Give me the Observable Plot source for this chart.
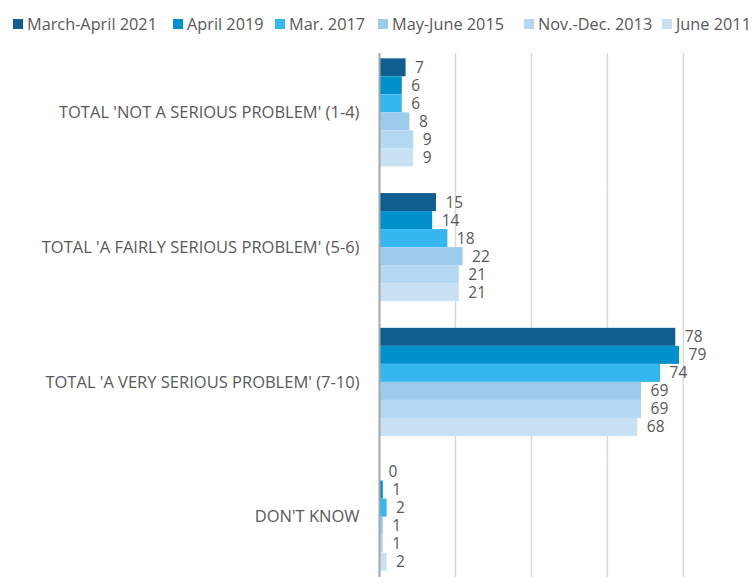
<!DOCTYPE html>
<html>
<head>
<meta charset="utf-8">
<script src="https://cdn.jsdelivr.net/npm/d3@7"></script>
<script src="https://cdn.jsdelivr.net/npm/@observablehq/plot@0.6"></script>
<style>
  html, body { margin: 0; padding: 0; background: #fff; overflow: hidden; }
  body { font-family: "Open Sans", "Noto Sans", sans-serif; color: #595959; }
  #legend { position: relative; height: 40px; white-space: nowrap; font-size: 16.3px; }
  .item { position: absolute; top: 12px; height: 24px; display: flex; align-items: center; }
  .sw { width: 10px; height: 10px; margin-right: 4px; flex: none; }
  svg { display: block; }
</style>
</head>
<body>
<div id="legend"></div>
<div id="chart"></div>
<script>
const categories = [
  "TOTAL 'NOT A SERIOUS PROBLEM' (1-4)",
  "TOTAL 'A FAIRLY SERIOUS PROBLEM' (5-6)",
  "TOTAL 'A VERY SERIOUS PROBLEM' (7-10)",
  "DON'T KNOW"
];
const series = ["March-April 2021", "April 2019", "Mar. 2017", "May-June 2015", "Nov.-Dec. 2013", "June 2011"];
const colors = ["#0E5F8F", "#0090CC", "#35B6EE", "#9DCBEC", "#B3D8F2", "#C8E2F4"];
const v2021 = [7, 15, 78, 0];
const v2019 = [6, 14, 79, 1];
const v2017 = [6, 18, 74, 2];
const v2015 = [8, 22, 69, 1];
const v2013 = [9, 21, 69, 1];
const v2011 = [9, 21, 68, 2];
const gridTicks = [20, 40, 60, 80];
const legendLefts = [13, 173, 275, 378, 524, 662];

const seriesValues = [v2021, v2019, v2017, v2015, v2013, v2011];
const data = [];
series.forEach((s, i) => categories.forEach((c, j) => data.push({series: s, cat: c, value: seriesValues[i][j]})));

// legend
const legend = document.getElementById("legend");
series.forEach((s, i) => {
  const it = document.createElement("div");
  it.className = "item";
  it.style.left = legendLefts[i] + "px";
  const sw = document.createElement("span");
  sw.className = "sw";
  sw.style.background = colors[i];
  const t = document.createElement("span");
  t.textContent = s;
  it.appendChild(sw); it.appendChild(t);
  legend.appendChild(it);
});

const chart = Plot.plot({
  width: 752,
  height: 552,
  marginTop: 13,
  marginBottom: 0,
  marginLeft: 379,
  marginRight: 0,
  style: {fontFamily: "'Open Sans', 'Noto Sans', sans-serif", fontSize: "16.5px", color: "#595959", background: "#fff"},
  x: {domain: [0, 98.2], axis: null},
  y: {domain: series, axis: null, paddingInner: 0, paddingOuter: 0.739, align: 0.2, round: false},
  fy: {domain: categories, padding: 0, round: false},
  color: {domain: series, range: colors},
  marks: [
    Plot.ruleX(gridTicks, {stroke: "#d9d9d9", strokeWidth: 1.5}),
    Plot.barX(data, {x: "value", y: "series", fy: "cat", fill: "series"}),
    Plot.ruleX([0], {stroke: "#a6a6a6", strokeWidth: 2}),
    Plot.text(data, {x: "value", y: "series", fy: "cat", text: d => String(d.value), textAnchor: "start", dx: 9, fill: "#595959", fontSize: 15.5}),
    Plot.axisFy({anchor: "left", label: null, tickSize: 0, tickPadding: 20, dy: -8, fill: "#595959", fontSize: 16.5})
  ]
});
document.getElementById("chart").appendChild(chart);
</script>
</body>
</html>
